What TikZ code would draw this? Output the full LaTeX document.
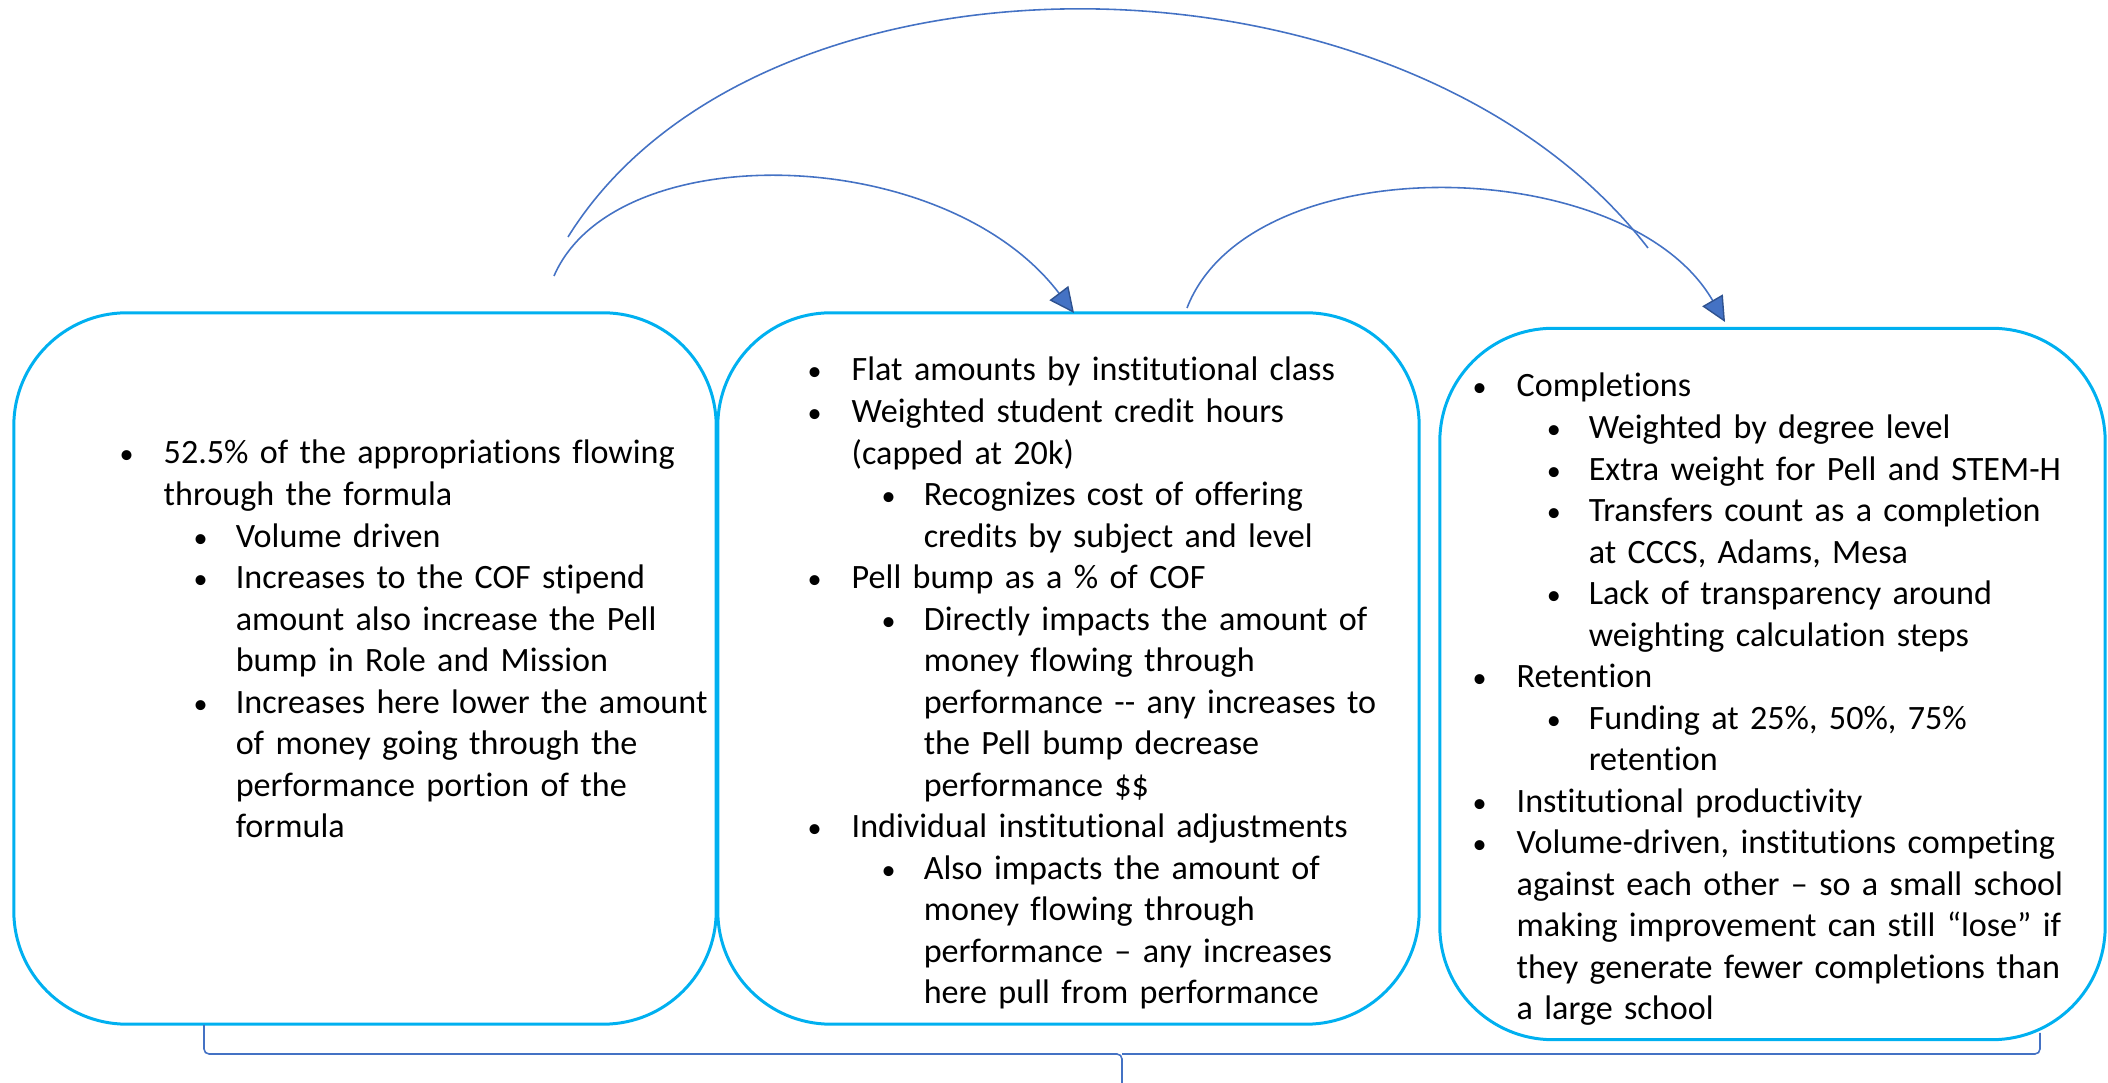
\documentclass[tikz,border=0pt]{standalone}
\usepackage{fontspec}
\setmainfont{Carlito}[Ligatures={NoCommon}]
\usetikzlibrary{arrows.meta}
\definecolor{boxblue}{HTML}{00B0F0}
\definecolor{arcblue}{HTML}{4472C4}
\definecolor{tipblue}{HTML}{2F528F}
\newcommand\nl{\hfil\break}
\newcommand\dotmark{\kern-0.02cm{\fontsize{8pt}{8pt}\selectfont\textbullet}}
\newcommand\bul[1]{\leftskip=0pt\hangindent=0.42cm\hangafter=1\noindent\makebox[0.42cm][l]{\dotmark}#1\par}
\newcommand\subbul[1]{\leftskip=0.74cm\hangindent=0.40cm\hangafter=1\noindent\makebox[0.40cm][l]{\dotmark}#1\par}
\begin{document}
\begin{tikzpicture}[x=0.01cm,y=-0.01cm,
  panel/.style={draw=boxblue,line width=0.85pt,rounded corners=1.13cm,minimum height=7.11cm},
  items/.style={anchor=base west,inner sep=0pt,text width=7cm,font=\fontsize{9.7pt}{11.81pt}\selectfont},
  link/.style={arcblue,line width=0.45pt},
  linkarrow/.style={link,-{Triangle[length=0.25cm,width=0.235cm,fill=arcblue,color=tipblue,line width=0.4pt]}}]
  \useasboundingbox (0,0) rectangle (2108,1083);
  \node[panel,minimum width=7.02cm] (cof) at (365,668.5) {};
  \node[panel,minimum width=7.01cm] (rm) at (1068.5,668.5) {};
  \node[panel,minimum width=6.65cm] (perf) at (1772.5,684) {};
  \node[items] (coftext) at (121,464) {%
    \bul{52.5\% of the appropriations flowing\nl through the formula}
    \subbul{Volume driven}
    \subbul{Increases to the COF stipend\nl amount also increase the Pell\nl bump in Role and Mission}
    \subbul{Increases here lower the amount\nl of money going through the\nl performance portion of the\nl formula}};
  \node[items] (rmtext) at (809,381) {%
    \bul{Flat amounts by institutional class}
    \bul{Weighted student credit hours\nl (capped at 20k)}
    \subbul{Recognizes cost of offering\nl credits by subject and level}
    \bul{Pell bump as a \% of COF}
    \subbul{Directly impacts the amount of\nl money flowing through\nl performance -{}- any increases to\nl the Pell bump decrease\nl performance \$\$}
    \bul{Individual institutional adjustments}
    \subbul{Also impacts the amount of\nl money flowing through\nl performance – any increases\nl here pull from performance}};
  \node[items] (perftext) at (1474,397) {%
    \bul{Completions}
    \subbul{Weighted by degree level}
    \subbul{Extra weight for Pell and STEM-H}
    \subbul{Transfers count as a completion\nl at CCCS, Adams, Mesa}
    \subbul{Lack of transparency around\nl weighting calculation steps}
    \bul{Retention}
    \subbul{Funding at 25\%, 50\%, 75\%\nl retention}
    \bul{Institutional productivity}
    \bul{Volume-driven, institutions competing\nl against each other – so a small school\nl making improvement can still “lose” if\nl they generate fewer completions than\nl a large school}};
  % arcs over the panels
  \coordinate (cofa) at (554,276);
  \coordinate (cofb) at (568,237);
  \coordinate (rma) at (1187,308);
  \coordinate (rmin) at (1074,313);
  \coordinate (perfin) at (1725,322);
  \coordinate (perfb) at (1648,248);
  \draw[linkarrow] (cofa) .. controls +(61,-141) and +(-129,-170) .. (rmin);
  \draw[linkarrow] (rma) .. controls +(63,-163) and +(-98,-170) .. (perfin);
  \draw[link] (cofb) .. controls +(192,-309) and +(-243,-314) .. (perfb);
  % brace under the panels
  \coordinate (bl) at (204,1025);
  \coordinate (br) at (2040,1033);
  \coordinate (bm) at (1122,1054);
  \coordinate (bt) at (1122,1083);
  \draw[link,rounded corners=0.05cm] (bl) |- (bm) -- (bt);
  \draw[link,rounded corners=0.05cm] (br) |- (bm);
\end{tikzpicture}
\end{document}
